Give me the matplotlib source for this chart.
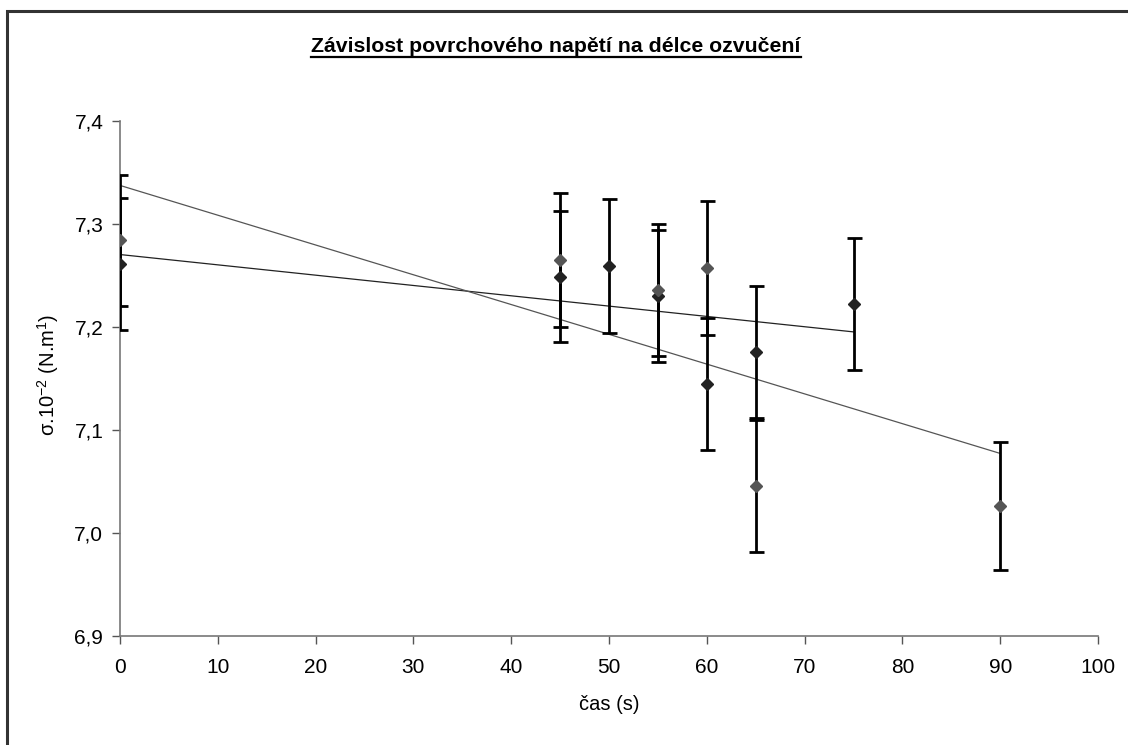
import numpy as np
import matplotlib.pyplot as plt
from matplotlib.lines import Line2D
from matplotlib.patches import Rectangle

plt.rcParams['font.family'] = ['Liberation Sans', 'DejaVu Sans']

# series 1 (dark diamonds, flat trendline)
cas_1 = [0, 45, 50, 55, 60, 65, 75]
sigma_1 = [7.261, 7.249, 7.259, 7.230, 7.145, 7.176, 7.222]
err_1 = [0.064, 0.064, 0.065, 0.064, 0.064, 0.064, 0.064]

# series 2 (grey diamonds, steep trendline)
cas_2 = [0, 45, 55, 60, 65, 90]
sigma_2 = [7.284, 7.265, 7.236, 7.257, 7.046, 7.026]
err_2 = [0.064, 0.065, 0.064, 0.065, 0.064, 0.062]

x_ticks = [0, 10, 20, 30, 40, 50, 60, 70, 80, 90, 100]
y_ticks = [6.9, 7.0, 7.1, 7.2, 7.3, 7.4]
y_tick_labels = ['6,9', '7,0', '7,1', '7,2', '7,3', '7,4']

title = 'Závislost povrchového napětí na délce ozvučení'

fig = plt.figure(figsize=(11.28, 7.45), dpi=100)
ax = fig.add_axes([120 / 1128, 1 - 636 / 745, 978 / 1128, 515 / 745])

# outer frame of the chart area (runs off the right and bottom edge)
fig.patches.append(Rectangle((7 / 1128, -0.01), 1.2, 1 - 11 / 745 + 0.01,
                             transform=fig.transFigure, fill=False,
                             edgecolor='#333333', linewidth=2.2))

# trendlines
for xs, ys, col in [(cas_1, sigma_1, '#222222'), (cas_2, sigma_2, '#555555')]:
    k, q = np.polyfit(xs, ys, 1)
    xx = np.array([min(xs), max(xs)])
    ax.plot(xx, k * xx + q, color=col, linewidth=0.9, zorder=2)

ax.errorbar(cas_1, sigma_1, yerr=err_1, fmt='D', color='#222222', markersize=6.3,
            ecolor='black', elinewidth=2, capsize=5.4, capthick=2, zorder=3)
ax.errorbar(cas_2, sigma_2, yerr=err_2, fmt='D', color='#555555', markersize=6.3,
            ecolor='black', elinewidth=2, capsize=5.4, capthick=2, zorder=3)

ax.set_xlim(0, 100)
ax.set_ylim(6.9, 7.4)
ax.set_xticks(x_ticks)
ax.set_yticks(y_ticks)
ax.set_yticklabels(y_tick_labels)
ax.tick_params(axis='both', labelsize=15, length=6, width=1, color='#555555', pad=6)
ax.tick_params(axis='x', pad=10)

for s in ['top', 'right']:
    ax.spines[s].set_visible(False)
for s in ['left', 'bottom']:
    ax.spines[s].set_color('#777777')
    ax.spines[s].set_linewidth(1.2)

fig.text(609 / 1128, 1 - 705 / 745, 'čas (s)', ha='center', va='center', fontsize=14.5)
fig.text(48 / 1128, 1 - 375 / 745, r'σ.10$^{\mathregular{-2}}$ (N.m$^{\mathregular{1}}$)',
         ha='center', va='center', rotation=90, fontsize=14.5)

# underlined bold title
t = fig.text(556 / 1128, 1 - 46 / 745, title, ha='center', va='center',
             fontsize=15.3, fontweight='bold')
fig.canvas.draw()
bb = t.get_window_extent().transformed(fig.transFigure.inverted())
uy = 1 - 57 / 745
fig.add_artist(Line2D([bb.x0, bb.x1], [uy, uy], transform=fig.transFigure,
                      color='black', linewidth=1.6))

fig.savefig('out.png', dpi=100)
